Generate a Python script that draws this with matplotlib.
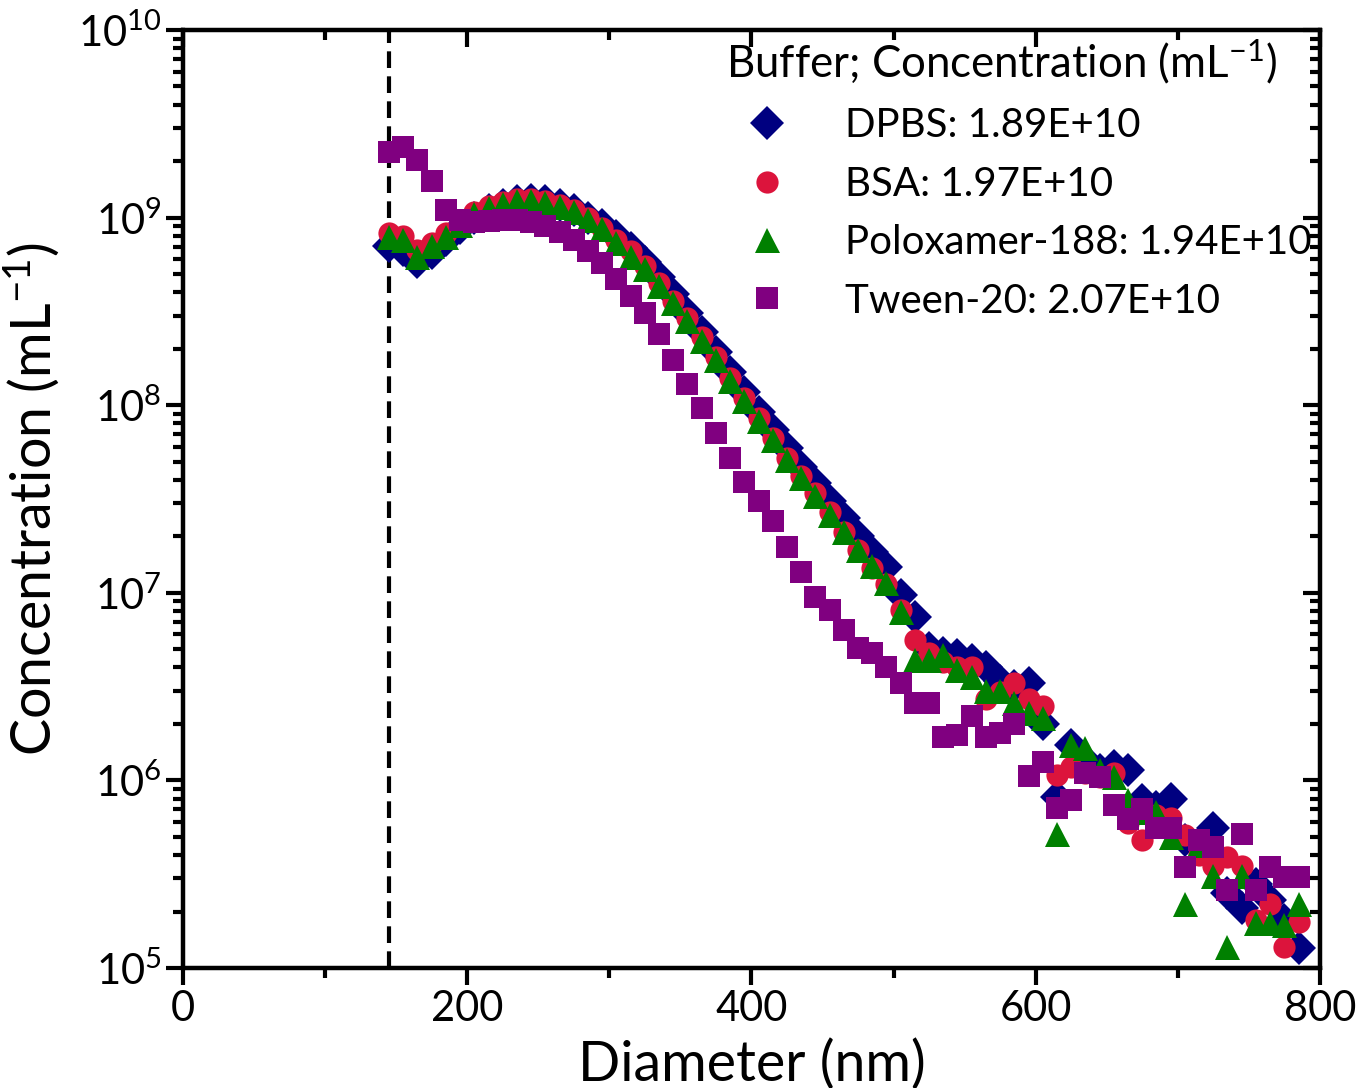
import numpy as np
import matplotlib
matplotlib.use("Agg")
import matplotlib.pyplot as plt
from matplotlib.ticker import LogLocator, MultipleLocator, NullFormatter

plt.rcParams['font.family'] = ['Lato', 'DejaVu Sans']
plt.rcParams['mathtext.fontset'] = 'custom'
plt.rcParams['mathtext.rm'] = 'Lato'
plt.rcParams['mathtext.it'] = 'Lato:italic'
plt.rcParams['mathtext.bf'] = 'Lato:bold'

# diametro (nm), passo de 10 nm
diameter = list(range(145, 786, 10))

dpbs = [7.1e8, 6.7e8, 5.8e8, 6.5e8, 7.6e8, 8.8e8, 1.0e9, 1.1e9, 1.17e9, 1.22e9,
        1.24e9, 1.22e9, 1.17e9, 1.1e9, 1.0e9, 9.1e8, 8.0e8, 6.9e8, 5.8e8, 4.8e8,
        3.9e8, 3.1e8, 2.45e8, 1.92e8, 1.5e8, 1.17e8, 9.2e7, 7.4e7, 5.9e7, 4.7e7,
        3.85e7, 3.1e7, 2.5e7, 2.0e7, 1.65e7, 1.38e7, 9.7e6, 7.4e6, 5.1e6, 4.8e6,
        4.65e6, 4.4e6, 4.0e6, 3.4e6, 3.2e6, 3.3e6, 2.0e6, 8.2e5, 1.55e6, 1.29e6,
        1.14e6, 1.2e6, 1.14e6, 7.9e5, 7.2e5, 8.0e5, 4.8e5, 4.6e5, 5.6e5, 2.5e5,
        2.1e5, 2.8e5, 2.3e5, 1.8e5, 1.28e5]

bsa = [8.3e8, 8.0e8, 6.7e8, 7.3e8, 8.3e8, 9.5e8, 1.07e9, 1.15e9, 1.21e9, 1.25e9,
       1.25e9, 1.22e9, 1.17e9, 1.1e9, 1.0e9, 8.8e8, 7.6e8, 6.6e8, 5.5e8, 4.5e8,
       3.6e8, 2.9e8, 2.3e8, 1.8e8, 1.4e8, 1.09e8, 8.6e7, 6.7e7, 5.2e7, 4.2e7,
       3.4e7, 2.7e7, 2.1e7, 1.7e7, 1.36e7, 1.11e7, 8.1e6, 5.6e6, 4.8e6, 4.3e6,
       4.0e6, 4.0e6, 2.7e6, 2.95e6, 3.3e6, 2.7e6, 2.5e6, 1.07e6, 1.18e6, 1.1e6,
       1.04e6, 1.1e6, 5.9e5, 4.8e5, 6.5e5, 6.3e5, 5.1e5, 4.0e5, 3.5e5, 3.9e5,
       3.5e5, 1.8e5, 2.2e5, 1.3e5, 1.76e5]

poloxamer = [7.9e8, 7.6e8, 6.2e8, 7.1e8, 7.9e8, 9.1e8, 1.04e9, 1.12e9, 1.18e9, 1.22e9,
             1.22e9, 1.19e9, 1.14e9, 1.07e9, 9.7e8, 8.7e8, 7.3e8, 6.2e8, 5.3e8, 4.3e8,
             3.5e8, 2.8e8, 2.2e8, 1.74e8, 1.35e8, 1.05e8, 8.2e7, 6.5e7, 5.1e7, 4.1e7,
             3.3e7, 2.6e7, 2.1e7, 1.7e7, 1.39e7, 1.13e7, 7.9e6, 4.4e6, 4.4e6, 4.65e6,
             3.9e6, 3.55e6, 3.0e6, 3.0e6, 2.6e6, 2.3e6, 2.15e6, 5.2e5, 1.55e6, 1.49e6,
             1.14e6, 1.04e6, 7.9e5, 6.8e5, 6.8e5, 5.0e5, 2.2e5, 4.5e5, 3.1e5, 1.3e5,
             3.1e5, 1.74e5, 1.74e5, 1.7e5, 2.2e5]

tween = [2.24e9, 2.38e9, 2.03e9, 1.57e9, 1.1e9, 9.7e8, 9.5e8, 9.6e8, 9.7e8, 9.7e8,
         9.5e8, 9.0e8, 8.4e8, 7.6e8, 6.6e8, 5.7e8, 4.7e8, 3.8e8, 3.1e8, 2.4e8,
         1.74e8, 1.3e8, 9.7e7, 7.1e7, 5.2e7, 3.9e7, 3.1e7, 2.4e7, 1.75e7, 1.29e7,
         9.5e6, 8.1e6, 6.3e6, 5.1e6, 4.8e6, 4.0e6, 3.3e6, 2.6e6, 2.6e6, 1.7e6,
         1.75e6, 2.2e6, 1.7e6, 1.8e6, 2.0e6, 1.05e6, 1.25e6, 7.1e5, 7.9e5, 1.1e6,
         1.04e6, 7.4e5, 6.2e5, 7.0e5, 5.6e5, 5.6e5, 3.45e5, 4.8e5, 4.4e5, 2.6e5,
         5.2e5, 2.6e5, 3.45e5, 3.05e5, 3.05e5]

labels = ["DPBS: 1.89E+10", "BSA: 1.97E+10", "Poloxamer-188: 1.94E+10", "Tween-20: 2.07E+10"]
cutoff = 145

fig = plt.figure(figsize=(13.72, 10.88), dpi=100)
ax = fig.add_axes([0.1334, 0.1103, 0.8286, 0.8621])

ax.axvline(cutoff, color="black", linestyle=(0, (4, 2)), linewidth=3, zorder=1)

ax.plot(diameter, dpbs, linestyle="none", marker="D", markersize=17, color="#000080",
        markeredgewidth=0, label=labels[0], zorder=2)
ax.plot(diameter, bsa, linestyle="none", marker="o", markersize=16, color="#DC143C",
        markeredgewidth=0, label=labels[1], zorder=3)
ax.plot(diameter, poloxamer, linestyle="none", marker="^", markersize=18, color="#008000",
        markeredgewidth=0, label=labels[2], zorder=4)
ax.plot(diameter, tween, linestyle="none", marker="s", markersize=16, color="#800080",
        markeredgewidth=0, label=labels[3], zorder=5)

ax.set_yscale("log")
ax.set_xlim(0, 800)
ax.set_ylim(1e5, 1e10)

ax.xaxis.set_major_locator(MultipleLocator(200))
ax.xaxis.set_minor_locator(MultipleLocator(100))
ax.yaxis.set_major_locator(LogLocator(base=10, numticks=20))
ax.yaxis.set_minor_locator(LogLocator(base=10, subs=np.arange(2, 10), numticks=20))
ax.yaxis.set_minor_formatter(NullFormatter())

for s in ax.spines.values():
    s.set_linewidth(3)

ax.tick_params(which="both", labelsize=30, width=3)
ax.tick_params(which="major", length=12)
ax.tick_params(which="minor", length=7)
ax.tick_params(which="both", bottom=True, left=True, direction="out")
# eixos espelhados com ticks para dentro
ax2 = ax.twinx()
ax2.set_yscale("log")
ax2.set_ylim(ax.get_ylim())
ax2.yaxis.set_major_locator(LogLocator(base=10, numticks=20))
ax2.yaxis.set_minor_locator(LogLocator(base=10, subs=np.arange(2, 10), numticks=20))
ax2.tick_params(which="both", direction="in", width=3, labelright=False)
ax2.tick_params(which="major", length=12)
ax2.tick_params(which="minor", length=7)
ax3 = ax.twiny()
ax3.set_xlim(ax.get_xlim())
ax3.xaxis.set_major_locator(MultipleLocator(200))
ax3.xaxis.set_minor_locator(MultipleLocator(100))
ax3.tick_params(which="both", direction="in", width=3, labeltop=False)
ax3.tick_params(which="major", length=12)
ax3.tick_params(which="minor", length=7)
for a in (ax2, ax3):
    for s in a.spines.values():
        s.set_linewidth(3)

ax.set_xlabel("Diameter (nm)", fontsize=40, labelpad=8)
ax.set_ylabel("Concentration (mL$^{-1}$)", fontsize=40, labelpad=12)

leg = ax3.legend(*ax.get_legend_handles_labels(), title="Buffer; Concentration (mL$^{-1}$)",
                 loc="upper right", bbox_to_anchor=(0.993, 0.992), frameon=False,
                 fontsize=29, title_fontsize=31.5, alignment="left",
                 handlelength=2.0, handletextpad=0.95, labelspacing=0.53,
                 borderaxespad=0.0, borderpad=0.0)

fig.savefig("out.png", dpi=100)
